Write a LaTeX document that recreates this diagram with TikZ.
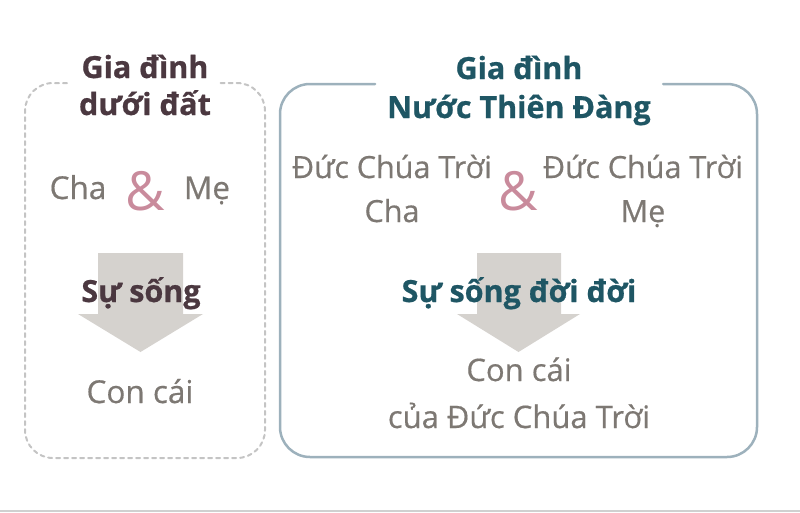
\documentclass[tikz,border=0pt]{standalone}
\usepackage{fontspec}
\setmainfont{Open Sans}[BoldFeatures={FakeBold=0.7}]
\newfontfamily\labelfont{Open Sans}[FakeBold=0.5]
\definecolor{plum}{HTML}{4B3840}
\definecolor{teal}{HTML}{1F5664}
\definecolor{textgray}{HTML}{7D7873}
\definecolor{amppink}{HTML}{C98B9C}
\definecolor{flowgray}{HTML}{D5D2CE}
\definecolor{dashgray}{HTML}{C4C4C4}
\definecolor{framegray}{HTML}{9DB1BC}
\begin{document}
\begin{tikzpicture}[line cap=round,line join=round,x=1pt,y=-1pt,
  txt/.style={anchor=base,text=textgray,align=center,font=\labelfont\fontsize{31.5}{44}\selectfont},
  ttl/.style={anchor=base,align=center,font=\bfseries\fontsize{30.5}{38}\selectfont},
  amp/.style={text=amppink,font=\fontsize{54}{54}\selectfont},
  flow/.style={fill=flowgray,draw=none}]
\useasboundingbox (0,0) rectangle (800,512);
\draw [color=dashgray!80,line width=2pt] (0,511) -- (800,511);

% earthly family
\draw [dashgray,line width=2pt,dash pattern=on 4pt off 4pt,rounded corners=28pt]
  (67,83) -- (25,83) -- (25,458) -- (265,458) -- (265,83) -- (220,83);
\fill [flow] (98,253) -- (183,253) -- (183,314) -- (203,314)
  -- (140.5,352) -- (78,314) -- (98,314) -- cycle;
\node [ttl,text=plum,font=\bfseries\fontsize{30.5}{37}\selectfont] (earthtitle) at (145,115) {Gia đình\\dưới đất};
\node [txt] (earthfather) at (78,199) {Cha};
\node [amp] (earthand) at (145,191) {\&};
\node [txt] (earthmother) at (207,199) {Mẹ};
\node [ttl,text=plum] (earthlife) at (141,302) {Sự sống};
\node [txt] (earthchild) at (140,403) {Con cái};

% heavenly family
\draw [framegray,line width=2.5pt,rounded corners=30pt]
  (375,84) -- (280,84) -- (280,457) -- (757,457) -- (757,84) -- (663,84);
\fill [flow] (477,253) -- (561,253) -- (561,314) -- (580,314)
  -- (518.5,352) -- (457,314) -- (477,314) -- cycle;
\node [ttl,text=teal,font=\bfseries\fontsize{30.5}{39}\selectfont] (heaventitle) at (519,118) {Gia đình\\Nước Thiên Đàng};
\node [txt,font=\labelfont\fontsize{30.5}{44}\selectfont] (heavenfather) at (392,222) {Đức Chúa Trời\\Cha};
\node [amp] (heavenand) at (518,191) {\&};
\node [txt,font=\labelfont\fontsize{30.5}{44}\selectfont] (heavenmother) at (643,222) {Đức Chúa Trời\\Mẹ};
\node [ttl,text=teal] (heavenlife) at (519,302) {Sự sống đời đời};
\node [txt,font=\labelfont\fontsize{31}{47}\selectfont] (heavenchild) at (519,428) {Con cái\\của Đức Chúa Trời};
\end{tikzpicture}
\end{document}
